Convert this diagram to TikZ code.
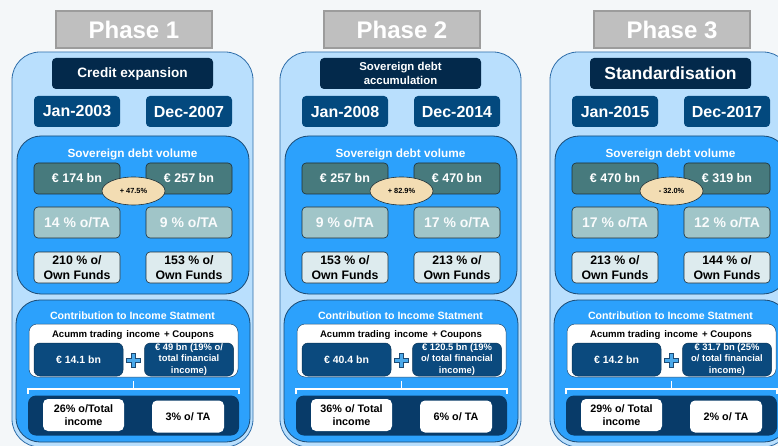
\documentclass[tikz,border=0pt]{standalone}
\usepackage{fontspec}
\setmainfont{Liberation Sans}
\usetikzlibrary{shapes.geometric}

\definecolor{bgpage}{HTML}{F4F7F9}
\definecolor{headfill}{HTML}{BFBFBF}
\definecolor{headline}{HTML}{9C9C9C}
\definecolor{panelfill}{HTML}{B9DFFD}
\definecolor{panelline}{HTML}{2F6EAA}
\definecolor{blockfill}{HTML}{2CA1FC}
\definecolor{blockline}{HTML}{1C4A73}
\definecolor{navy}{HTML}{03294B}
\definecolor{datefill}{HTML}{03497E}
\definecolor{tealfill}{HTML}{477A7D}
\definecolor{lteal}{HTML}{A0C5C8}
\definecolor{pale}{HTML}{DDEBEE}
\definecolor{ovalfill}{HTML}{F3DDB3}
\definecolor{incfill}{HTML}{0B4A7E}
\definecolor{deepnavy}{HTML}{083B69}
\definecolor{plusfill}{HTML}{4BA9EA}
\definecolor{darkline}{HTML}{1E2E36}

\tikzset{
  box/.style={rectangle, inner sep=0pt, align=center, font=\bfseries},
  phasehead/.style={box, draw=headline, line width=1.4pt, fill=headfill, text=white,
    font=\fontsize{24}{28}\selectfont\bfseries, minimum width=156pt, minimum height=37pt},
  panel/.style={box, draw=panelline, line width=0.8pt, fill=panelfill, rounded corners=28pt,
    minimum width=241pt, minimum height=395pt},
  block/.style={box, draw=blockline, line width=0.8pt, fill=blockfill, rounded corners=24pt},
  titlefont/.style={font=\fontsize{13.6}{16}\selectfont\bfseries},
  titlebox/.style={box, fill=navy, text=white, rounded corners=4pt, titlefont,
    minimum width=161pt, minimum height=31pt},
  datebox/.style={box, fill=datefill, text=white, rounded corners=4pt,
    font=\fontsize{16}{18}\selectfont\bfseries, minimum width=86pt, minimum height=31pt},
  volbox/.style={box, draw=darkline, line width=0.6pt, fill=tealfill, text=white, rounded corners=4pt,
    font=\fontsize{12.5}{14}\selectfont\bfseries, minimum width=86pt, minimum height=31pt},
  tabox/.style={box, draw=darkline, line width=0.6pt, fill=lteal, text=white!94!lteal, rounded corners=4pt,
    font=\fontsize{14}{16}\selectfont\bfseries, minimum width=86pt, minimum height=31pt},
  ofbox/.style={box, draw=darkline, line width=0.6pt, fill=pale, text=black, rounded corners=4pt,
    font=\fontsize{12.3}{15}\selectfont\bfseries, minimum width=86pt, minimum height=31pt},
  growth/.style={ellipse, draw=darkline, line width=0.6pt, fill=ovalfill, inner sep=0pt,
    font=\fontsize{7.4}{8}\selectfont\bfseries, minimum width=63pt, minimum height=28pt},
  heading/.style={box, text=white, font=\fontsize{11.8}{14}\selectfont\bfseries},
  subheading/.style={box, text=white, font=\fontsize{10.6}{12}\selectfont\bfseries},
  whitebox/.style={box, fill=white, draw=blockline, line width=0.5pt, rounded corners=8pt,
    minimum width=209pt, minimum height=53pt},
  incbox/.style={box, fill=incfill, draw=incfill!70!black, line width=0.5pt, text=white, rounded corners=6pt,
    minimum width=89pt, minimum height=33pt},
  resultpanel/.style={box, fill=deepnavy, rounded corners=8pt, minimum width=211pt, minimum height=40pt},
  resultbox/.style={box, fill=white, text=black, rounded corners=5pt,
    font=\fontsize{10.8}{12.6}\selectfont\bfseries, minimum height=32pt},
  brace/.style={draw=white, line width=1.6pt},
  plussign/.style={fill=plusfill, draw=blockline, line width=0.5pt}
}

% top part of one phase column: header, panel, title, dates, debt-volume block
\newcommand\phasetop[9]{%
  \begin{scope}[xshift=#2pt]
    \node[panel] (#1-panel) at (132.5,249.5) {};
    \node[phasehead] (#1-head) at (134,29.5) {#3};
    \node[titlebox] (#1-title) at (132.5,73.5) {#4};
    \node[datebox] (#1-d1) at (77,111.5) {#5};
    \node[datebox] (#1-d2) at (189,111.5) {#6};
    \node[block, minimum width=232pt, minimum height=158pt] (#1-vol) at (133,215) {};
    \node[heading] (#1-volt) at (132.5,154.5) {Sovereign debt volume};
    \node[volbox] (#1-v1) at (77,178.5) {#7};
    \node[volbox] (#1-v2) at (189,178.5) {#8};
    \node[growth] (#1-g) at (133.5,191) {#9};
  \end{scope}}

% ratio rows of the debt-volume block
\newcommand\phasemid[6]{%
  \begin{scope}[xshift=#2pt]
    \node[tabox] (#1-ta1) at (77,222.5) {#3};
    \node[tabox] (#1-ta2) at (189,222.5) {#4};
    \node[ofbox] (#1-of1) at (77,267.5) {#5};
    \node[ofbox] (#1-of2) at (189,267.5) {#6};
  \end{scope}}

% income-statement block
\newcommand\phasebottom[6]{%
  \begin{scope}[xshift=#2pt]
    \node[block, minimum width=234pt, minimum height=142pt] (#1-inc) at (133,371) {};
    \node[subheading] (#1-inct) at (132.5,315.5) {Contribution to Income Statment};
    \node[whitebox] (#1-wb) at (133.5,350.5) {};
    \node[box, font=\fontsize{9.6}{11}\selectfont\bfseries] (#1-acc) at (133,335.5)
      {Acumm trading\hspace{4pt}income\hspace{4pt}+ Coupons};
    \node[incbox, font=\fontsize{10.5}{12}\selectfont\bfseries] (#1-i1) at (78.5,359.5) {#3};
    \node[incbox, font=\fontsize{9.4}{11.4}\selectfont\bfseries] (#1-i2) at (189,359.5) {#4};
    \node[box, minimum size=14pt] (#1-plus) at (133.3,360.5) {};
    \path[plussign] ([xshift=-2.2pt,yshift=7pt]#1-plus.center) -- ++(4.4pt,0) -- ++(0,-4.8pt)
      -- ++(4.8pt,0) -- ++(0,-4.4pt) -- ++(-4.8pt,0) -- ++(0,-4.8pt) -- ++(-4.4pt,0)
      -- ++(0,4.8pt) -- ++(-4.8pt,0) -- ++(0,4.4pt) -- ++(4.8pt,0) -- cycle;
    \node[resultpanel] (#1-rp) at (133.5,415.5) {};
    \node[resultbox, minimum width=81pt] (#1-tot) at (83.5,415) {#5};
    \node[resultbox, minimum width=72pt] (#1-tta) at (188,416.5) {#6};
    \draw[brace] ([yshift=1.5pt]#1-rp.north west) -- ([yshift=6.5pt]#1-rp.north west)
      -- ([yshift=6.5pt]#1-rp.north east) -- ([yshift=1.5pt]#1-rp.north east);
    \draw[brace] ([yshift=6.5pt]#1-rp.north) -- ([yshift=-4pt]#1-wb.south);
  \end{scope}}

\begin{document}
\begin{tikzpicture}[x=1pt,y=-1pt]
  \useasboundingbox (0,0) rectangle (778,446);
  \fill[bgpage] (0,0) rectangle (778,446);
  \clip (0,0) rectangle (778,446);

  % Phase 1
  \phasetop{p1}{0}{Phase 1}{Credit expansion}{Jan-2003}{Dec-2007}
    {€ 174 bn}{€ 257 bn}{+ 47.5\%}
  \phasemid{p1}{0}{14 \% o/TA}{9 \% o/TA}{210 \% o/\\Own Funds}{153 \% o/\\Own Funds}
  \phasebottom{p1}{0}{€ 14.1 bn}{€ 49 bn (19\% o/\\total financial\\income)}
    {26\% o/Total\\income}{3\% o/ TA}

  % Phase 2
  \tikzset{titlefont/.style={font=\fontsize{11.4}{14}\selectfont\bfseries}}
  \phasetop{p2}{268}{Phase 2}{Sovereign debt\\accumulation}{Jan-2008}{Dec-2014}
    {€ 257 bn}{€ 470 bn}{+ 82.9\%}
  \phasemid{p2}{268}{9 \% o/TA}{17 \% o/TA}{153 \% o/\\Own Funds}{213 \% o/\\Own Funds}
  \phasebottom{p2}{268}{€ 40.4 bn}{€ 120.5 bn (19\%\\o/ total financial\\income)}
    {36\% o/ Total\\income}{6\% o/ TA}

  % Phase 3
  \tikzset{titlefont/.style={font=\fontsize{17.5}{20}\selectfont\bfseries}}
  \phasetop{p3}{538}{Phase 3}{Standardisation}{Jan-2015}{Dec-2017}
    {€ 470 bn}{€ 319 bn}{- 32.0\%}
  \phasemid{p3}{538}{17 \% o/TA}{12 \% o/TA}{213 \% o/\\Own Funds}{144 \% o/\\Own Funds}
  \phasebottom{p3}{538}{€ 14.2 bn}{€ 31.7 bn (25\%\\o/ total financial\\income)}
    {29\% o/ Total\\income}{2\% o/ TA}
\end{tikzpicture}
\end{document}
